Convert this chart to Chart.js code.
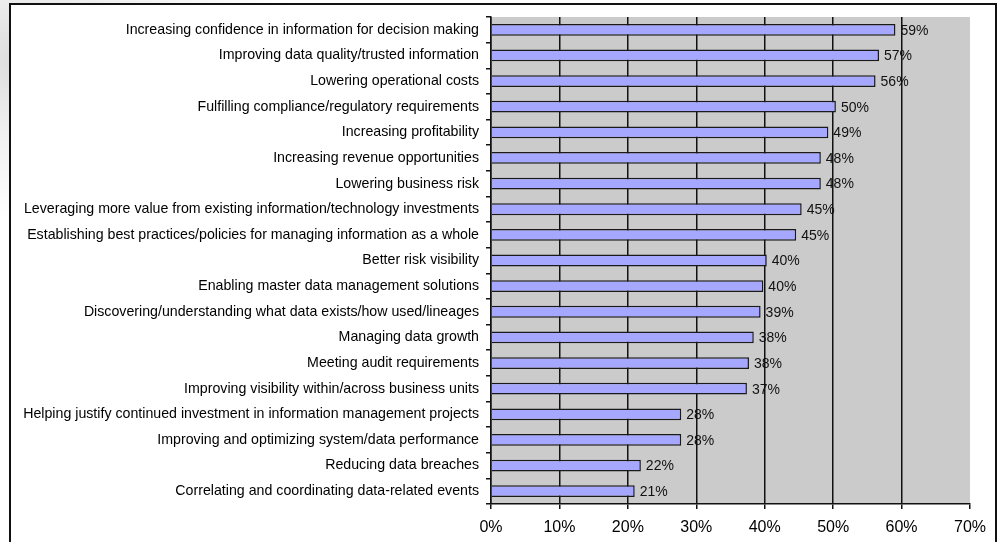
<!DOCTYPE html>
<html>
<head>
<meta charset="utf-8">
<script src="https://cdn.jsdelivr.net/npm/chart.js@4.4.1/dist/chart.umd.min.js"></script>
<style>
    html, body { margin: 0; padding: 0; width: 1007px; height: 542px; overflow: hidden; }
    body { background: radial-gradient(ellipse 260px 160px at 40px 60px, #d9d9d9 0%, #efefef 45%, #ffffff 100%); position: relative; }
    #frame { position: absolute; left: 9px; top: 3px; width: 984px; height: 600px; border: 2px solid #111; background: #fff; }
    #chart { position: absolute; left: 0; top: 0; }
</style>
</head>
<body>
<div id="frame"></div>
<canvas id="chart" width="1007" height="542"></canvas>
<script>
// Categories (top to bottom)
const categories = [
    "Increasing confidence in information for decision making",
    "Improving data quality/trusted information",
    "Lowering operational costs",
    "Fulfilling compliance/regulatory requirements",
    "Increasing profitability",
    "Increasing revenue opportunities",
    "Lowering business risk",
    "Leveraging more value from existing information/technology investments",
    "Establishing best practices/policies for managing information as a whole",
    "Better risk visibility",
    "Enabling master data management solutions",
    "Discovering/understanding what data exists/how used/lineages",
    "Managing data growth",
    "Meeting audit requirements",
    "Improving visibility within/across business units",
    "Helping justify continued investment in information management projects",
    "Improving and optimizing system/data performance",
    "Reducing data breaches",
    "Correlating and coordinating data-related events"
];

// Share of respondents (%)
const values = [59.1, 56.7, 56.2, 50.4, 49.3, 48.2, 48.2, 45.4, 44.6, 40.3, 39.8, 39.4, 38.4, 37.7, 37.4, 27.8, 27.8, 21.9, 21.0];

// X axis ticks
const xTicks = [0, 10, 20, 30, 40, 50, 60, 70];

const FONT = "'Liberation Sans', Arial, sans-serif";
Chart.defaults.color = '#000';
Chart.defaults.font.family = FONT;

// Gray plot area
const plotBackground = {
    id: 'plotBackground',
    beforeDraw(chart) {
        const { ctx, chartArea: a } = chart;
        ctx.save();
        ctx.fillStyle = '#cbcbcb';
        ctx.fillRect(a.left, a.top, a.right - a.left, a.bottom - a.top);
        ctx.restore();
    }
};

// Value labels right of each bar
const valueLabels = {
    id: 'valueLabels',
    afterDatasetsDraw(chart) {
        const { ctx } = chart;
        const meta = chart.getDatasetMeta(0);
        ctx.save();
        ctx.font = '14px ' + FONT;
        ctx.fillStyle = '#111';
        ctx.textAlign = 'left';
        ctx.textBaseline = 'middle';
        meta.data.forEach((bar, i) => {
            ctx.fillText(Math.round(values[i]) + '%', bar.x + 5, bar.y + 1);
        });
        ctx.restore();
    }
};

new Chart(document.getElementById('chart'), {
    type: 'bar',
    data: {
        labels: categories,
        datasets: [{
            data: values,
            backgroundColor: '#a6a8ff',
            borderColor: '#1a1a1a',
            borderWidth: 1.5,
            categoryPercentage: 1,
            barPercentage: 0.46
        }]
    },
    options: {
        indexAxis: 'y',
        responsive: false,
        animation: false,
        devicePixelRatio: 1,
        layout: { padding: { left: 0, right: 37, top: 17, bottom: 0 } },
        plugins: { legend: { display: false }, tooltip: { enabled: false } },
        scales: {
            x: {
                min: 0,
                max: 70,
                afterBuildTicks: (scale) => { scale.ticks = xTicks.map(v => ({ value: v })); },
                afterFit: (scale) => { scale.height = 38; },
                grid: {
                    color: (c) => (c.tick && c.tick.value === 70) ? 'rgba(0,0,0,0)' : '#111',
                    lineWidth: 1.5,
                    tickLength: 5,
                    tickColor: '#111'
                },
                border: { color: '#111', width: 1.5 },
                ticks: {
                    font: { size: 16 },
                    padding: 9,
                    maxRotation: 0,
                    callback: (v) => v + '%'
                }
            },
            y: {
                afterFit: (scale) => { scale.width = 491; },
                grid: {
                    drawOnChartArea: false,
                    tickLength: 5,
                    color: '#111',
                    lineWidth: 1.5
                },
                border: { color: '#111', width: 1.5 },
                ticks: {
                    font: { size: 14.2 },
                    padding: 7,
                    autoSkip: false
                }
            }
        }
    },
    plugins: [plotBackground, valueLabels]
});
</script>
</body>
</html>
